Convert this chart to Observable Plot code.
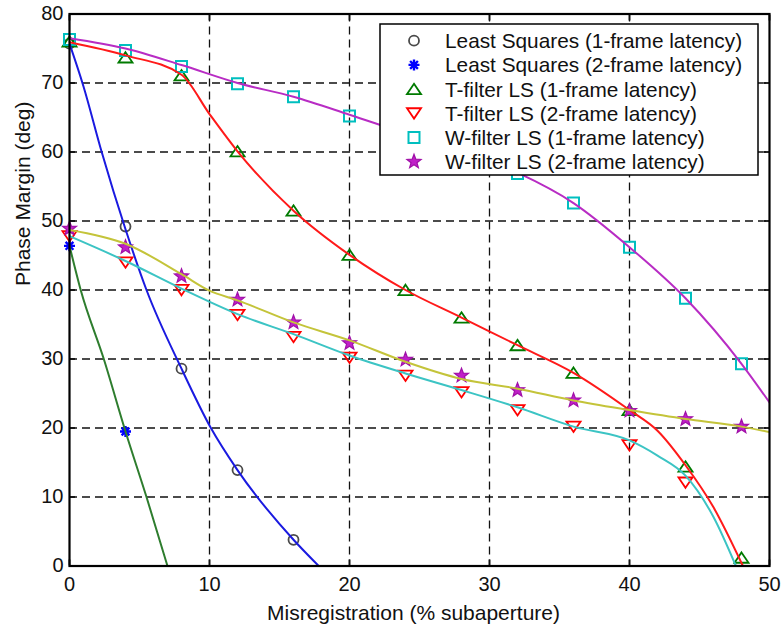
<!DOCTYPE html>
<html><head><meta charset="utf-8">
<script src="https://cdn.jsdelivr.net/npm/d3@7"></script>
<script src="https://cdn.jsdelivr.net/npm/@observablehq/plot@0.6"></script>
<style>
body{margin:0;background:#fff}
svg{font-family:"Liberation Sans",Arial,Helvetica,sans-serif}
</style>
</head><body><div id="chart"></div>
<script>
// ---- axes / text ----
const xTicks = [0, 10, 20, 30, 40, 50];
const yTicks = [0, 10, 20, 30, 40, 50, 60, 70, 80];
const xGrid = [10, 20, 30, 40];
const yGrid = [10, 20, 30, 40, 50, 60, 70];
const xLabel = "Misregistration (% subaperture)";
const yLabel = "Phase Margin (deg)";
const seriesNames = [
  "Least Squares (1-frame latency)",
  "Least Squares (2-frame latency)",
  "T-filter LS (1-frame latency)",
  "T-filter LS (2-frame latency)",
  "W-filter LS (1-frame latency)",
  "W-filter LS (2-frame latency)"
];

// ---- marker data ----
const ls1X = [0, 4, 8, 12, 16];
const ls1Y = [75.7, 49.2, 28.6, 13.9, 3.8];
const ls2X = [0, 4];
const ls2Y = [46.4, 19.5];
const tf1X = [0, 4, 8, 12, 16, 20, 24, 28, 32, 36, 40, 44, 48];
const tf1Y = [76.0, 73.7, 71.1, 60.1, 51.5, 45.1, 40.0, 36.0, 32.0, 28.0, 22.6, 14.4, 1.2];
const tf2X = [0, 4, 8, 12, 16, 20, 24, 28, 32, 36, 40, 44];
const tf2Y = [47.8, 44.0, 40.0, 36.4, 33.2, 30.2, 27.6, 25.2, 22.6, 20.2, 17.5, 12.1];
const wf1X = [0, 4, 8, 12, 16, 20, 24, 28, 32, 36, 40, 44, 48];
const wf1Y = [76.3, 74.7, 72.4, 69.9, 68.0, 65.2, 62.7, 60.1, 56.9, 52.6, 46.2, 38.8, 29.3];
const wf2X = [0, 4, 8, 12, 16, 20, 24, 28, 32, 36, 40, 44, 48];
const wf2Y = [48.9, 46.2, 42.0, 38.6, 35.3, 32.3, 29.9, 27.6, 25.5, 24.0, 22.5, 21.3, 20.2];

// ---- fitted curve data ----
const cBlueX = [0, 1, 2.3, 4, 5.5, 8, 10.1, 12, 16, 17.8];
const cBlueY = [75.7, 69.5, 60, 48.8, 40, 28.6, 20, 13.9, 3.8, 0];
const cGreenX = [0, 0.8, 2.45, 4, 5.5, 7];
const cGreenY = [46.4, 40, 30, 19.5, 10, 0];
const cRedX = [0, 4, 8, 10, 12, 16, 20, 24, 28, 32, 36, 40, 42, 44, 46, 48.1];
const cRedY = [75.9, 74.0, 71.2, 65.5, 60.1, 51.5, 45.1, 40.0, 36.0, 32.0, 28.0, 22.6, 19.6, 14.6, 8.5, 0];
const cMagX = [0, 4, 8, 12, 16, 20, 24, 28, 32, 36, 40, 44, 48, 50];
const cMagY = [76.5, 75.0, 72.6, 70.0, 68.0, 65.4, 62.7, 60.2, 57.0, 52.6, 46.2, 38.8, 29.3, 23.7];
const cYelX = [0, 4, 8, 10, 12, 16, 20, 24, 28, 32, 36, 40, 44, 48, 50];
const cYelY = [48.7, 46.7, 42.3, 39.9, 38.5, 35.3, 32.7, 29.6, 27.1, 25.7, 24.0, 22.6, 21.3, 20.2, 19.4];
const cCyanX = [0, 4, 8, 12, 16, 20, 24, 28, 32, 36, 40, 42, 44, 46, 47.6];
const cCyanY = [47.8, 44.2, 40.2, 36.5, 33.6, 30.5, 27.9, 25.5, 23.0, 20.2, 18.2, 16.0, 13.1, 7.1, 0];

const rows = (xs, ys) => xs.map((x, i) => ({x, y: ys[i]}));

// ---- custom marker shapes ----
const R = s => Math.sqrt(s / Math.PI);
const symCircle = {draw(c, s){ const r = R(s); c.moveTo(r, 0); c.arc(0, 0, r, 0, 2 * Math.PI); }};
const symSquare = {draw(c, s){ const r = R(s); c.rect(-r, -r, 2 * r, 2 * r); }};
const symTriUp = {draw(c, s){ const r = R(s); c.moveTo(0, -0.72 * r); c.lineTo(0.95 * r, 0.68 * r); c.lineTo(-0.95 * r, 0.68 * r); c.closePath(); }};
const symTriDown = {draw(c, s){ const r = R(s); c.moveTo(0, 0.72 * r); c.lineTo(0.95 * r, -0.68 * r); c.lineTo(-0.95 * r, -0.68 * r); c.closePath(); }};
const symStar = {draw(c, s){ const r = R(s); for (let k = 0; k < 10; k++) { const a = -Math.PI / 2 + k * Math.PI / 5; const rr = k % 2 ? 0.42 * r : r; const px = rr * Math.cos(a), py = rr * Math.sin(a); if (k) c.lineTo(px, py); else c.moveTo(px, py); } c.closePath(); }};
const symAst = {draw(c, s){ const r = R(s); for (let k = 0; k < 4; k++) { const a = k * Math.PI / 4; c.moveTo(-r * Math.cos(a), -r * Math.sin(a)); c.lineTo(r * Math.cos(a), r * Math.sin(a)); } }};

const markerStyles = [
  {sym: symCircle, r: 5.0, stroke: "#4a4a4a", fill: "none", sw: 1.8},
  {sym: symAst, r: 5.5, stroke: "#0000ff", fill: "none", sw: 2.4},
  {sym: symTriUp, r: 7.4, stroke: "#007a00", fill: "none", sw: 1.8},
  {sym: symTriDown, r: 7.4, stroke: "#ff0000", fill: "none", sw: 1.8},
  {sym: symSquare, r: 5.5, stroke: "#00bfbf", fill: "none", sw: 2.0},
  {sym: symStar, r: 7.4, stroke: "#a010a8", fill: "#c020c8", sw: 1.2}
];
const markerData = [rows(ls1X, ls1Y), rows(ls2X, ls2Y), rows(tf1X, tf1Y), rows(tf2X, tf2Y), rows(wf1X, wf1Y), rows(wf2X, wf2Y)];

const curves = [
  {d: rows(cBlueX, cBlueY), c: "#1a1ae0"},
  {d: rows(cGreenX, cGreenY), c: "#2e7d2e"},
  {d: rows(cRedX, cRedY), c: "#ff1a1a"},
  {d: rows(cMagX, cMagY), c: "#b82cc4"},
  {d: rows(cYelX, cYelY), c: "#c4c43a"},
  {d: rows(cCyanX, cCyanY), c: "#3cc4c4"}
];

const gridStyle = {stroke: "#111", strokeOpacity: 1, strokeWidth: 1.3, strokeDasharray: "8,5"};
const empty = () => "";

const chart = Plot.plot({
  width: 784, height: 629,
  marginLeft: 69, marginRight: 15, marginTop: 13.5, marginBottom: 63.5,
  x: {domain: [0, 50]},
  y: {domain: [0, 80]},
  style: {fontFamily: "'Liberation Sans', Arial, sans-serif", fontSize: "20px", color: "#111", background: "#fff", overflow: "visible"},
  marks: [
    Plot.gridX(xGrid, gridStyle),
    Plot.gridY(yGrid, gridStyle),
    Plot.axisX(xTicks, {anchor: "bottom", tickSize: 0, tickPadding: 11, fontSize: 20, label: null}),
    Plot.axisY(yTicks, {anchor: "left", tickSize: 0, tickPadding: 6, fontSize: 20, label: null}),
    Plot.axisX(xTicks, {anchor: "bottom", tickSize: -6, tickFormat: empty, label: null, strokeWidth: 1.8}),
    Plot.axisX(xTicks, {anchor: "top", tickSize: -6, tickFormat: empty, label: null, strokeWidth: 1.8}),
    Plot.axisY(yTicks, {anchor: "left", tickSize: -6, tickFormat: empty, label: null, strokeWidth: 1.8}),
    Plot.axisY(yTicks, {anchor: "right", tickSize: -6, tickFormat: empty, label: null, strokeWidth: 1.8}),
    ...markerData.map((d, i) => Plot.dot(d, {x: "x", y: "y", symbol: markerStyles[i].sym, r: markerStyles[i].r,
        stroke: markerStyles[i].stroke, fill: markerStyles[i].fill, strokeWidth: markerStyles[i].sw})),
    ...curves.map(c => Plot.line(c.d, {x: "x", y: "y", stroke: c.c, strokeWidth: 2, curve: "monotone-x", clip: true})),
    Plot.frame({stroke: "#000", strokeWidth: 2.2}),
    Plot.text([xLabel], {frameAnchor: "bottom", dy: 47, dx: -6, lineAnchor: "middle", fontSize: 21, fill: "#111"}),
    Plot.text([yLabel], {frameAnchor: "left", dx: -46, dy: -4, rotate: -90, lineAnchor: "middle", fontSize: 21, fill: "#111"})
  ]
});

// ---- legend ----
const svg = d3.select(chart);
const lg = svg.append("g").attr("text-anchor", "start");
lg.append("rect").attr("x", 380).attr("y", 24).attr("width", 378).attr("height", 151)
  .attr("fill", "#fff").attr("stroke", "#000").attr("stroke-width", 1.5);
seriesNames.forEach((name, i) => {
  const cy = 40.7 + i * 24.2;
  const m = markerStyles[i];
  lg.append("path")
    .attr("d", d3.symbol(m.sym, Math.PI * m.r * m.r)())
    .attr("transform", `translate(414,${cy})`)
    .attr("fill", m.fill).attr("stroke", m.stroke).attr("stroke-width", m.sw);
  lg.append("text").attr("x", 445).attr("y", cy).attr("dy", "0.36em")
    .attr("text-anchor", "start")
    .attr("font-size", 20.8).attr("fill", "#111").text(name);
});

document.getElementById("chart").appendChild(chart);
</script>
</body></html>
